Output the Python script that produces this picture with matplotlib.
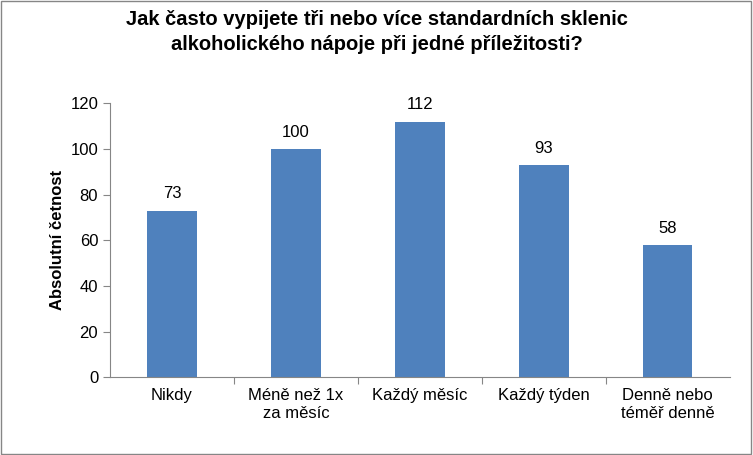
import matplotlib.pyplot as plt
from matplotlib.patches import Rectangle

categories = ["Nikdy", "Méně než 1x\nza měsíc", "Každý měsíc", "Každý týden", "Denně nebo\ntéměř denně"]
values = [73, 100, 112, 93, 58]
yticks = [0, 20, 40, 60, 80, 100, 120]

plt.rcParams["font.family"] = "Liberation Sans"

fig = plt.figure(figsize=(7.53, 4.55), dpi=100)
ax = fig.add_axes([0.146, 0.171, 0.823, 0.602])

x = range(len(categories))
bars = ax.bar(x, values, width=0.4, color="#4F81BD")
for xi, v in zip(x, values):
    ax.text(xi, v + 4, str(v), ha="center", va="bottom", fontsize=12)

ax.set_xlim(-0.5, len(categories) - 0.5)
ax.set_ylim(0, 120)
ax.set_yticks(yticks)
ax.set_xticks([i + 0.5 for i in x][:-1], minor=False)
ax.set_xticks(list(x), minor=True)
ax.set_xticklabels([])
ax.set_xticklabels(categories, minor=True, fontsize=12)
ax.tick_params(axis="x", which="major", length=5, color="#868686")
ax.tick_params(axis="x", which="minor", length=0, pad=8)
ax.tick_params(axis="y", labelsize=12, length=5, color="#868686")
for s in ["top", "right"]:
    ax.spines[s].set_visible(False)
for s in ["left", "bottom"]:
    ax.spines[s].set_color("#868686")
ax.set_ylabel("Absolutní četnost", fontsize=12, fontweight="bold")

fig.text(0.5, 0.93, "Jak často vypijete tři nebo více standardních sklenic\nalkoholického nápoje při jedné příležitosti?",
         ha="center", va="center", fontsize=14.5, fontweight="bold", linespacing=1.4)

fig.patches.append(Rectangle((0.001, 0.002), 0.997, 0.996, transform=fig.transFigure,
                             fill=False, edgecolor="#868686", linewidth=1))

fig.savefig("out.png", dpi=100)
